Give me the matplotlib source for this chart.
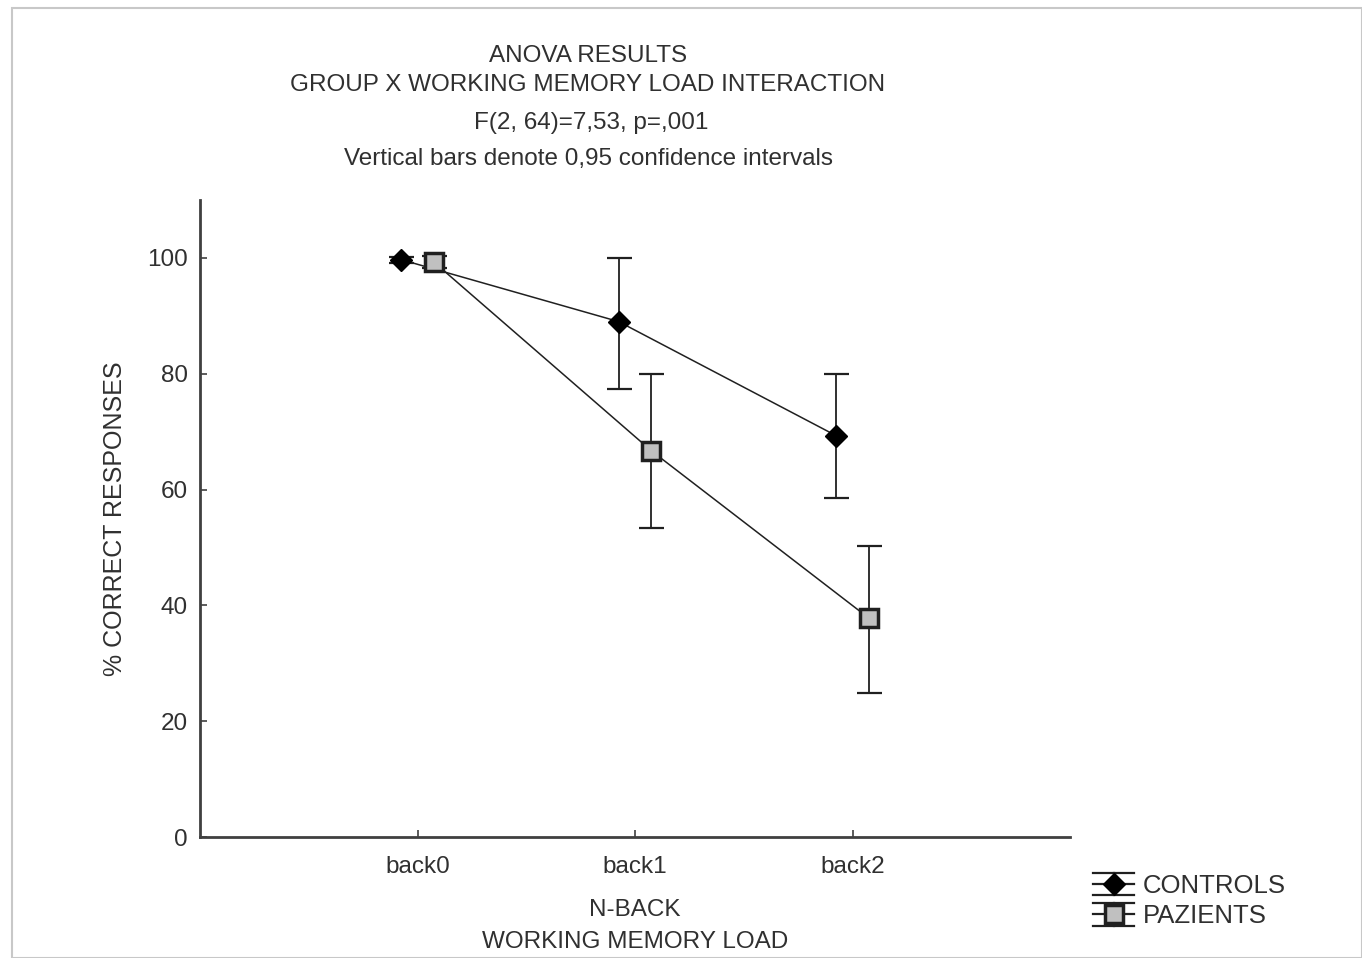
import matplotlib
matplotlib.use("Agg")
import matplotlib.pyplot as plt
from matplotlib.patches import Rectangle
from matplotlib.lines import Line2D
from matplotlib.legend_handler import HandlerBase

plt.rcParams['font.family'] = ['Liberation Sans', 'DejaVu Sans']

categories = ["back0", "back1", "back2"]
controls_mean = [99.7, 89.0, 69.3]
controls_low = [99.2, 77.4, 58.6]
controls_high = [100.2, 100.0, 80.0]
pazients_mean = [99.3, 66.7, 37.8]
pazients_low = [98.3, 53.3, 24.8]
pazients_high = [100.3, 80.0, 50.3]
yticks = [0, 20, 40, 60, 80, 100]
series_names = ["CONTROLS", "PAZIENTS"]

fig = plt.figure(figsize=(13.62, 9.58), dpi=100)
fig.patches.append(Rectangle((12/1362, 0), 1 - 12/1362, 1 - 8/958, transform=fig.transFigure,
                             fill=False, edgecolor='#c8c8c8', linewidth=1.5))
ax = fig.add_axes([200/1362, 121/958, 870/1362, 637/958])

x = list(range(len(categories)))
off = 0.075
xc = [v - off for v in x]
xp = [v + off for v in x]

ce = [[m - l for m, l in zip(controls_mean, controls_low)],
      [h - m for m, h in zip(controls_mean, controls_high)]]
pe = [[m - l for m, l in zip(pazients_mean, pazients_low)],
      [h - m for m, h in zip(pazients_mean, pazients_high)]]

ax.errorbar(xc, controls_mean, yerr=ce, fmt='none', ecolor='#202020', elinewidth=1.3,
            capsize=9, capthick=1.6, zorder=2)
ax.errorbar(xp, pazients_mean, yerr=pe, fmt='none', ecolor='#202020', elinewidth=1.3,
            capsize=9, capthick=1.6, zorder=2)
lc, = ax.plot(xc, controls_mean, color='#202020', lw=1.1, marker='D', ms=11,
              mfc='black', mec='black', zorder=3)
lp, = ax.plot(xp, pazients_mean, color='#202020', lw=1.1, marker='s', ms=13,
              mfc='#c0c0c0', mec='#202020', mew=2.5, zorder=3)

ax.set_xlim(-1, 3)
ax.set_ylim(0, 110)
ax.set_xticks(x)
ax.set_xticklabels(categories)
ax.set_yticks(yticks)
for s in ['top', 'right']:
    ax.spines[s].set_visible(False)
for s in ['left', 'bottom']:
    ax.spines[s].set_color('#404040')
    ax.spines[s].set_linewidth(2)
ax.tick_params(direction='in', length=5, width=1.2, colors='#404040',
               labelsize=17.5, labelcolor='#303030')
ax.tick_params(axis='x', pad=14)
ax.tick_params(axis='y', pad=9)

ax.set_xlabel("N-BACK\nWORKING MEMORY LOAD", fontsize=17.5, color='#303030',
              labelpad=15, linespacing=1.55)
ax.set_ylabel("% CORRECT RESPONSES", fontsize=18, color='#303030', labelpad=14)

tkw = dict(ha='center', va='center', fontsize=17.5, color='#303030')
fig.text(588/1362, 1 - 56/958, "ANOVA RESULTS", **tkw)
fig.text(588/1362, 1 - 85/958, "GROUP X WORKING MEMORY LOAD INTERACTION", **tkw)
fig.text(591/1362, 1 - 123/958, "F(2, 64)=7,53, p=,001", **tkw)
fig.text(588/1362, 1 - 159/958, "Vertical bars denote 0,95 confidence intervals", **tkw)


class HandlerBars(HandlerBase):
    def create_artists(self, legend, orig_handle, xdescent, ydescent, width, height,
                       fontsize, trans):
        cx = width / 2 - xdescent
        cy = height / 2 - ydescent
        dy = height * 0.62
        arts = []
        for yy in (cy - dy, cy, cy + dy):
            arts.append(Line2D([-xdescent, width - xdescent], [yy, yy], color='#202020',
                               lw=1.6, transform=trans))
        arts.append(Line2D([cx, cx], [cy - dy, cy + dy], color='#202020', lw=1.6,
                           transform=trans))
        m = Line2D([cx], [cy], marker=orig_handle.get_marker(),
                   ms=orig_handle.get_markersize(), mfc=orig_handle.get_markerfacecolor(),
                   mec=orig_handle.get_markeredgecolor(), mew=orig_handle.get_markeredgewidth(),
                   linestyle='none', transform=trans)
        arts.append(m)
        return arts


leg = fig.legend([lc, lp], series_names, loc='upper left',
                 bbox_to_anchor=(1093/1362, 1 - 874/958),
                 frameon=False, fontsize=18.5, handlelength=1.6, handletextpad=0.35,
                 labelspacing=0.25, borderaxespad=0, borderpad=0,
                 handler_map={Line2D: HandlerBars()})
for t in leg.get_texts():
    t.set_color('#303030')

fig.savefig("out.png", dpi=100)
